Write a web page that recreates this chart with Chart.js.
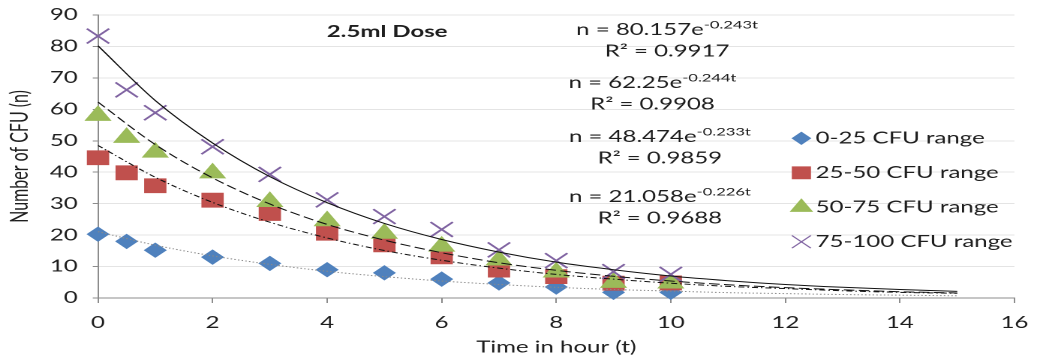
<!DOCTYPE html>
<html>
<head>
<meta charset="utf-8">
<script src="https://cdn.jsdelivr.net/npm/chart.js@4.4.0/dist/chart.umd.min.js"></script>
<style>
    html, body { margin: 0; padding: 0; background: #fff; }
    /* the reference is an Excel chart stretched sideways, so the canvas is too */
    #chart { display: block; width: 1037px !important; height: 362px !important; }
</style>
</head>
<body>
<canvas id="chart" width="691" height="362" style="width:1037px;height:362px"></canvas>
<script>
const chartTitle = '2.5ml Dose'
const seriesNames = ['0-25 CFU range', '25-50 CFU range', '50-75 CFU range', '75-100 CFU range']

// measured points
const hours = [0, 0.5, 1, 2, 3, 4, 5, 6, 7, 8, 9, 10]
const cfu0to25 = [20.3, 18, 15.2, 13, 11, 9, 8, 6, 4.8, 3.5, 1.8, 1.8]
const cfu25to50 = [44.6, 39.8, 35.7, 31.1, 26.9, 20.6, 16.9, 13.1, 8.9, 6.8, 4.7, 4.8]
const cfu50to75 = [58, 51, 46.3, 39.7, 30.6, 24.5, 20.5, 16.4, 12, 8.2, 4.9, 4.7]
const cfu75to100 = [83.3, 66.2, 58.9, 48.1, 39.3, 31.2, 25.9, 21.8, 15.3, 11.9, 8.4, 7.5]

// exponential trendlines
const trendHours = [0, 1, 2, 3, 4, 5, 6, 7, 8, 9, 10, 11, 12, 13, 14, 15]
const trend0to25 = [21.1, 16.8, 13.4, 10.7, 8.5, 6.8, 5.4, 4.3, 3.4, 2.7, 2.2, 1.7, 1.4, 1.1, 0.9, 0.7]
const trend25to50 = [48.5, 38.4, 30.4, 24.1, 19.1, 15.1, 12.0, 9.5, 7.5, 6.0, 4.7, 3.7, 3.0, 2.3, 1.8, 1.5]
const trend50to75 = [62.3, 48.8, 38.2, 29.9, 23.4, 18.4, 14.4, 11.2, 8.8, 6.9, 5.4, 4.2, 3.3, 2.6, 2.0, 1.6]
const trend75to100 = [80.2, 62.8, 49.3, 38.6, 30.3, 23.7, 18.6, 14.6, 11.4, 9.0, 7.0, 5.5, 4.3, 3.4, 2.7, 2.1]

// trendline labels, top to bottom
const eqBase = ['n = 80.157e', 'n = 62.25e', 'n = 48.474e', 'n = 21.058e']
const eqPower = ['-0.243t', '-0.244t', '-0.233t', '-0.226t']
const eqR2 = ['R\u00B2 = 0.9917', 'R\u00B2 = 0.9908', 'R\u00B2 = 0.9859', 'R\u00B2 = 0.9688']

const xMin = 0, xMax = 16, xStep = 2
const yMin = 0, yMax = 90, yStep = 10

const FONT = 'Lato'
const TEXT = '#1e1e1e'
const AXIS = '#8c8c8c'

const toXY = (xs, ys) => xs.map((x, i) => ({ x: x, y: ys[i] }))

const markers = [
    { data: cfu0to25, color: '#4F81BD', style: 'rectRot', r: 7, order: 4 },
    { data: cfu25to50, color: '#C0504D', style: 'rect', r: 9.8, order: 3 },
    { data: cfu50to75, color: '#9BBB59', style: 'triangle', r: 9.5, order: 2 },
    { data: cfu75to100, color: '#8064A2', style: 'crossRot', r: 10.5, order: 1 }
]
const trends = [
    { data: trend0to25, color: '#8a8a8a', dash: [1, 1.5] },
    { data: trend25to50, color: '#111', dash: [4, 2, 1, 2] },
    { data: trend50to75, color: '#111', dash: [7, 3] },
    { data: trend75to100, color: '#111', dash: [] }
]

const datasets = []
markers.forEach((m, i) => {
    datasets.push({
        label: seriesNames[i],
        data: toXY(hours, m.data),
        showLine: false,
        clip: false,
        pointStyle: m.style,
        pointRadius: m.r,
        pointHoverRadius: m.r,
        pointBackgroundColor: m.color,
        pointBorderColor: m.color,
        pointBorderWidth: m.style == 'crossRot' ? 1.6 : 1,
        order: m.order
    })
})
trends.forEach(t => {
    datasets.push({
        label: 'trend',
        data: toXY(trendHours, t.data),
        showLine: true,
        clip: false,
        pointRadius: 0,
        pointHoverRadius: 0,
        borderColor: t.color,
        borderWidth: 1,
        borderDash: t.dash,
        cubicInterpolationMode: 'monotone',
        fill: false,
        order: 0
    })
})

// title, trendline equations and the legend, drawn over the plot like in Excel
const overlay = {
    id: 'overlay',
    afterDraw(chart) {
        const ctx = chart.ctx
        ctx.save()
        ctx.fillStyle = TEXT
        ctx.textBaseline = 'middle'

        ctx.textAlign = 'center'
        ctx.font = `bold 16px ${FONT}`
        ctx.fillText(chartTitle, 258, 32)

        const eqPos = [[444.5, 30], [434.8, 83], [439.7, 137], [439.7, 197]]
        eqBase.forEach((base, i) => {
            const [cx, cy] = eqPos[i]
            ctx.font = `16px ${FONT}`
            const w1 = ctx.measureText(base).width
            ctx.font = `11px ${FONT}`
            const w2 = ctx.measureText(eqPower[i]).width
            const x0 = cx - (w1 + w2) / 2
            ctx.textAlign = 'left'
            ctx.font = `16px ${FONT}`
            ctx.fillText(base, x0, cy)
            ctx.font = `11px ${FONT}`
            ctx.fillText(eqPower[i], x0 + w1, cy - 5)
            ctx.textAlign = 'center'
            ctx.font = `16px ${FONT}`
            ctx.fillText(eqR2[i], cx, cy + 21.5)
        })

        // legend
        ctx.textAlign = 'left'
        ctx.font = `16px ${FONT}`
        markers.forEach((m, i) => {
            const y = 138.3 + i * 34.5
            ctx.fillStyle = m.color
            ctx.strokeStyle = m.color
            ctx.lineWidth = 1
            Chart.helpers.drawPoint(ctx, {
                pointStyle: m.style,
                radius: m.r * 0.85,
                rotation: 0,
                borderWidth: 1
            }, 534, y)
            ctx.fillStyle = TEXT
            ctx.fillText(seriesNames[i], 543.5, y)
        })
        ctx.restore()
    }
}

function draw() {
    new Chart(document.getElementById('chart'), {
        type: 'scatter',
        data: { datasets: datasets },
        options: {
            responsive: false,
            devicePixelRatio: 2,
            animation: false,
            layout: { padding: { top: 15, right: 15, bottom: 5, left: 0 } },
            plugins: {
                legend: { display: false },
                tooltip: { enabled: false }
            },
            scales: {
                x: {
                    type: 'linear',
                    min: xMin,
                    max: xMax,
                    ticks: { stepSize: xStep, color: TEXT, padding: 10, font: { family: FONT, size: 16 } },
                    grid: { drawOnChartArea: false, drawTicks: true, tickLength: 5, tickColor: AXIS },
                    border: { color: AXIS },
                    title: {
                        display: true,
                        text: 'Time in hour (t)',
                        color: TEXT,
                        font: { family: FONT, size: 16 },
                        padding: { top: 0, bottom: 0 }
                    },
                    afterFit(scale) {
                        scale.height = 59
                        scale.paddingLeft = 0
                        scale.paddingRight = 0
                    }
                },
                y: {
                    min: yMin,
                    max: yMax,
                    ticks: { stepSize: yStep, color: TEXT, padding: 10, font: { family: FONT, size: 16 } },
                    grid: { color: '#e4e4e4', drawTicks: true, tickLength: 3.5, tickColor: AXIS },
                    border: { color: AXIS },
                    title: {
                        display: true,
                        text: 'Number of CFU (n)',
                        color: TEXT,
                        font: { family: FONT, size: 16 },
                        padding: { top: 3.7, bottom: 0 }
                    },
                    afterFit(scale) {
                        scale.width = 65.3
                        scale.paddingTop = 0
                        scale.paddingBottom = 0
                    }
                }
            }
        },
        plugins: [overlay]
    })
}

Promise.all([
    document.fonts.load(`16px ${FONT}`),
    document.fonts.load(`bold 16px ${FONT}`)
]).then(draw, draw)
</script>
</body>
</html>
